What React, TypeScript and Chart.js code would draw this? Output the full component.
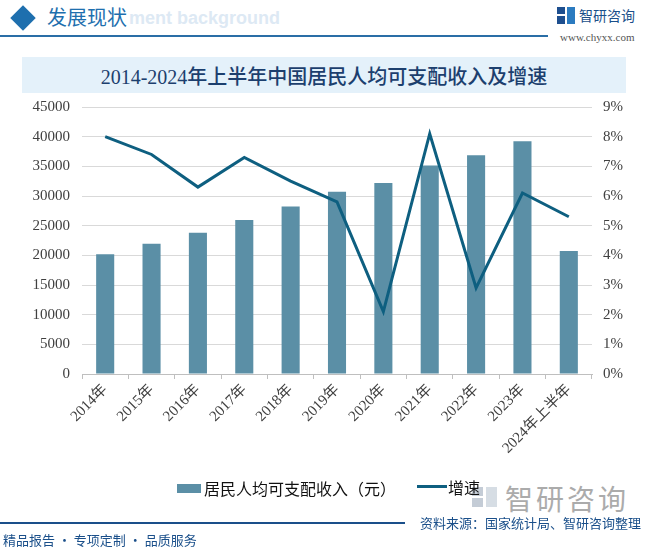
import React, { useEffect, useRef } from "react";
import { Chart, registerables } from "chart.js";

Chart.register(...registerables);

const categories = ["2014年", "2015年", "2016年", "2017年", "2018年", "2019年", "2020年", "2021年", "2022年", "2023年", "2024年上半年"];
const incomeValues = [20167, 21966, 23821, 25974, 28228, 30733, 32189, 35128, 36883, 39218, 20733];
const growthValues = [8.0, 7.4, 6.3, 7.3, 6.5, 5.8, 2.1, 8.1, 2.9, 6.1, 5.3];
const leftTicks = [0, 5000, 10000, 15000, 20000, 25000, 30000, 35000, 40000, 45000];
const rightTicks = [0, 1, 2, 3, 4, 5, 6, 7, 8, 9];

const titleText = "2014-2024年上半年中国居民人均可支配收入及增速";
const incomeLabel = "居民人均可支配收入（元）";
const growthLabel = "增速";

const BAR_COLOR = "#5b8fa6";
const LINE_COLOR = "#0e5f80";
const TICK_FONT = "'Liberation Serif', 'Noto Sans CJK SC', serif";

export default function App() {
  const ref = useRef<HTMLCanvasElement | null>(null);

  useEffect(() => {
    if (!ref.current) return;
    const chart = new Chart(ref.current, {
      type: "bar",
      data: {
        labels: categories,
        datasets: [
          {
            type: "line",
            label: growthLabel,
            data: growthValues,
            yAxisID: "y1",
            borderColor: LINE_COLOR,
            backgroundColor: LINE_COLOR,
            borderWidth: 3,
            pointRadius: 0,
            tension: 0,
            order: 0,
          } as any,
          {
            type: "bar",
            label: incomeLabel,
            data: incomeValues,
            yAxisID: "y",
            backgroundColor: BAR_COLOR,
            barPercentage: 0.39,
            categoryPercentage: 1,
            order: 1,
          },
        ],
      },
      options: {
        responsive: false,
        animation: false,
        devicePixelRatio: 1,
        layout: { padding: { top: 107, left: 0, right: 0, bottom: 0 } },
        plugins: {
          legend: { display: false },
          tooltip: { enabled: false },
        },
        scales: {
          x: {
            offset: true,
            grid: { display: true, drawOnChartArea: false, drawTicks: true, tickLength: 5, color: "#bfbfbf" },
            border: { display: true, color: "#bfbfbf" },
            ticks: {
              minRotation: 45,
              maxRotation: 45,
              autoSkip: false,
              padding: 2,
              color: "#404040",
              font: { family: TICK_FONT, size: 15 },
            },
            afterFit: (s: any) => { s.height = 549 - 374; },
          },
          y: {
            position: "left",
            min: 0,
            max: 45000,
            afterBuildTicks: (s: any) => { s.ticks = leftTicks.map((v) => ({ value: v })); },
            grid: { color: "#d9d9d9", drawTicks: false },
            border: { display: false },
            ticks: {
              padding: 12,
              color: "#404040",
              font: { family: TICK_FONT, size: 15 },
              callback: (v: any) => String(v),
            },
            afterFit: (s: any) => { s.width = 82; },
          },
          y1: {
            position: "right",
            min: 0,
            max: 9,
            afterBuildTicks: (s: any) => { s.ticks = rightTicks.map((v) => ({ value: v })); },
            grid: { drawOnChartArea: false, drawTicks: false },
            border: { display: false },
            ticks: {
              padding: 11,
              color: "#404040",
              font: { family: TICK_FONT, size: 15 },
              callback: (v: any) => v + "%",
            },
            afterFit: (s: any) => { s.width = 654 - 592; },
          },
        },
      },
    });
    return () => chart.destroy();
  }, []);

  const blue = "#1a4f8a";
  const cjk = "'Noto Sans CJK SC', sans-serif";

  return (
    <div style={{ position: "absolute", left: 0, top: 0, width: 654, height: 549, background: "#fff", overflow: "hidden" }}>
      {/* header */}
      <div style={{ position: "absolute", left: 14, top: 9, width: 18, height: 18, background: "#1e6fae", transform: "rotate(45deg)" }} />
      <div style={{ position: "absolute", left: 129, top: 8, fontFamily: "'Liberation Sans', Arial, sans-serif", fontWeight: "bold", fontSize: 18, color: "#dde9f4", whiteSpace: "nowrap" }}>ment background</div>
      <div style={{ position: "absolute", left: 47, top: 2, fontFamily: cjk, fontSize: 20, color: "#1e6fae", whiteSpace: "nowrap", lineHeight: "30px" }}>发展现状</div>
      <div style={{ position: "absolute", left: 0, top: 35, width: 548, height: 2, background: "#2a6ea6" }} />
      {/* logo top right */}
      <div style={{ position: "absolute", left: 557, top: 7, width: 8, height: 7, background: "#1e4f8f" }} />
      <div style={{ position: "absolute", left: 557, top: 16, width: 8, height: 8, background: "#1e4f8f" }} />
      <div style={{ position: "absolute", left: 567, top: 7, width: 8, height: 17, background: "#2b7bc0" }} />
      <div style={{ position: "absolute", left: 579, top: 4, fontFamily: cjk, fontSize: 14, color: blue, whiteSpace: "nowrap", lineHeight: "22px" }}>智研咨询</div>
      <div style={{ position: "absolute", left: 560, top: 30, fontFamily: "'Liberation Serif', serif", fontSize: 11, color: "#555", whiteSpace: "nowrap", lineHeight: "14px" }}>www.chyxx.com</div>
      {/* title box */}
      <div style={{ position: "absolute", left: 22, top: 57, width: 604, height: 36, background: "#e4f1fa" }} />
      <div style={{ position: "absolute", left: 22, top: 57, width: 604, height: 36, display: "flex", alignItems: "center", justifyContent: "center", fontFamily: "'Liberation Serif', 'Noto Sans CJK SC', serif", fontSize: 20, fontWeight: 500, color: "#1c3f6e", whiteSpace: "nowrap" }}>{titleText}</div>
      {/* watermark logo bottom right */}
      <div style={{ position: "absolute", left: 472, top: 487, width: 11, height: 9, background: "#c4ccd6" }} />
      <div style={{ position: "absolute", left: 472, top: 498, width: 11, height: 9, background: "#c4ccd6" }} />
      <div style={{ position: "absolute", left: 486, top: 487, width: 11, height: 20, background: "#d6dde4" }} />
      <div style={{ position: "absolute", left: 505, top: 480, fontFamily: cjk, fontSize: 28, color: "#ababab", whiteSpace: "nowrap", lineHeight: "36px", letterSpacing: 3 }}>智研咨询</div>
      {/* chart */}
      <canvas ref={ref} width={654} height={549} style={{ position: "absolute", left: 0, top: 0, width: 654, height: 549 }} />
      {/* legend */}
      <div style={{ position: "absolute", left: 177, top: 484, width: 24, height: 9, background: BAR_COLOR }} />
      <div style={{ position: "absolute", left: 204, top: 477, fontFamily: cjk, fontSize: 16, color: "#111", whiteSpace: "nowrap", lineHeight: "22px" }}>{incomeLabel}</div>
      <div style={{ position: "absolute", left: 417, top: 485, width: 30, height: 3, background: LINE_COLOR }} />
      <div style={{ position: "absolute", left: 448, top: 476, fontFamily: cjk, fontSize: 16, color: "#111", whiteSpace: "nowrap", lineHeight: "22px" }}>{growthLabel}</div>
      {/* footer */}
      <div style={{ position: "absolute", left: 0, top: 522, width: 405, height: 2, background: blue }} />
      <div style={{ position: "absolute", left: 420, top: 514, fontFamily: cjk, fontSize: 13, color: blue, whiteSpace: "nowrap", lineHeight: "18px" }}>资料来源：国家统计局、智研咨询整理</div>
      <div style={{ position: "absolute", left: 3, top: 531, fontFamily: cjk, fontSize: 13, color: blue, whiteSpace: "nowrap", lineHeight: "18px" }}>精品报告 · 专项定制 · 品质服务</div>
    </div>
  );
}
